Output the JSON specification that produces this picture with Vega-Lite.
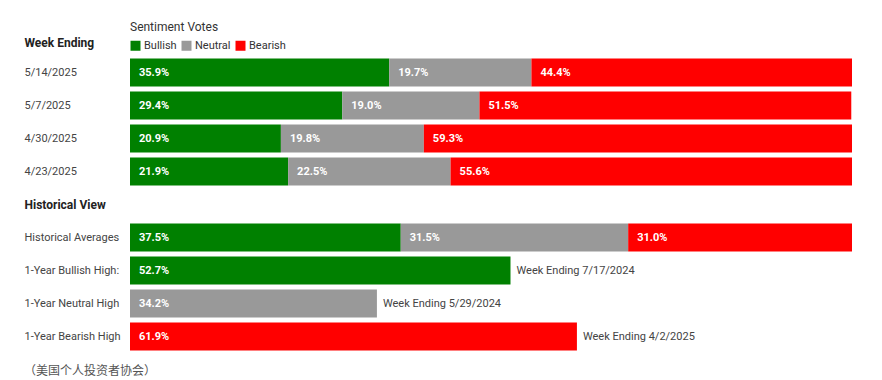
{
  "$schema": "https://vega.github.io/schema/vega-lite/v6.json",
  "width": 722,
  "height": 297,
  "autosize": {"type": "none"},
  "padding": {"left": 130, "top": 56, "right": 30, "bottom": 27},
  "background": "white",
  "config": {"view": {"stroke": null}, "font": "Roboto"},
  "title": {
    "text": "（美国个人投资者协会）",
    "orient": "bottom",
    "anchor": "start",
    "frame": "group",
    "dx": -106,
    "offset": 13,
    "fontSize": 12,
    "fontWeight": "normal",
    "color": "#555555",
    "font": "Noto Sans CJK SC"
  },
  "data": {
    "values": [
      {"row": "5/14/2025", "series": "Bullish", "order": 1, "value": 35.9},
      {"row": "5/14/2025", "series": "Neutral", "order": 2, "value": 19.7},
      {"row": "5/14/2025", "series": "Bearish", "order": 3, "value": 44.4},
      {"row": "5/7/2025", "series": "Bullish", "order": 1, "value": 29.4},
      {"row": "5/7/2025", "series": "Neutral", "order": 2, "value": 19.0},
      {"row": "5/7/2025", "series": "Bearish", "order": 3, "value": 51.5},
      {"row": "4/30/2025", "series": "Bullish", "order": 1, "value": 20.9},
      {"row": "4/30/2025", "series": "Neutral", "order": 2, "value": 19.8},
      {"row": "4/30/2025", "series": "Bearish", "order": 3, "value": 59.3},
      {"row": "4/23/2025", "series": "Bullish", "order": 1, "value": 21.9},
      {"row": "4/23/2025", "series": "Neutral", "order": 2, "value": 22.5},
      {"row": "4/23/2025", "series": "Bearish", "order": 3, "value": 55.6},
      {"row": "Historical Averages", "series": "Bullish", "order": 1, "value": 37.5},
      {"row": "Historical Averages", "series": "Neutral", "order": 2, "value": 31.5},
      {"row": "Historical Averages", "series": "Bearish", "order": 3, "value": 31.0},
      {"row": "1-Year Bullish High:", "series": "Bullish", "order": 1, "value": 52.7, "note": "Week Ending 7/17/2024"},
      {"row": "1-Year Neutral High", "series": "Neutral", "order": 2, "value": 34.2, "note": "Week Ending 5/29/2024"},
      {"row": "1-Year Bearish High", "series": "Bearish", "order": 3, "value": 61.9, "note": "Week Ending 4/2/2025"}
    ]
  },
  "transform": [
    {"stack": "value", "groupby": ["row"], "sort": [{"field": "order", "order": "ascending"}], "as": ["x0", "x1"]}
  ],
  "encoding": {
    "y": {
      "field": "row",
      "type": "nominal",
      "scale": {
        "domain": ["5/14/2025", "5/7/2025", "4/30/2025", "4/23/2025", "Historical View", "Historical Averages", "1-Year Bullish High:", "1-Year Neutral High", "1-Year Bearish High"],
        "paddingInner": 0.15,
        "paddingOuter": 0.075
      },
      "axis": {
        "title": "Week Ending",
        "titleAngle": 0,
        "titleAlign": "left",
        "titleBaseline": "middle",
        "titleX": -106,
        "titleY": -14,
        "titleFontSize": 12,
        "titleFontWeight": "bold",
        "titleColor": "#222222",
        "domain": false,
        "ticks": false,
        "grid": false,
        "labelAlign": "left",
        "labelPadding": 106,
        "labelFontSize": {"condition": {"test": "datum.value == 'Historical View'", "value": 12}, "value": 11},
        "labelFontWeight": {"condition": {"test": "datum.value == 'Historical View'", "value": "bold"}, "value": "normal"},
        "labelColor": {"condition": {"test": "datum.value == 'Historical View'", "value": "#222222"}, "value": "#444444"}
      }
    }
  },
  "layer": [
    {
      "mark": {"type": "bar"},
      "encoding": {
        "x": {"field": "x0", "type": "quantitative", "scale": {"domain": [0, 100], "nice": false}, "axis": null},
        "x2": {"field": "x1"},
        "color": {
          "field": "series",
          "type": "nominal",
          "scale": {"domain": ["Bullish", "Neutral", "Bearish"], "range": ["#008000", "#999999", "#ff0000"]},
          "legend": {
            "title": "Sentiment Votes",
            "orient": "none",
            "legendX": 0,
            "legendY": -34,
            "direction": "horizontal",
            "padding": 0,
            "titleFontSize": 12,
            "titleFontWeight": "normal",
            "titleColor": "#333333",
            "titlePadding": 6,
            "labelFontSize": 11,
            "labelColor": "#333333",
            "labelOffset": 3,
            "columnPadding": 4,
            "symbolType": "square",
            "symbolSize": 100,
            "symbolStrokeWidth": 0,
            "symbolOpacity": 1
          }
        }
      }
    },
    {
      "mark": {"type": "text", "align": "left", "baseline": "middle", "dx": 9, "fontSize": 11, "fontWeight": "bold", "color": "white", "text": {"expr": "format(datum.value, '.1f') + '%'"}},
      "encoding": {
        "x": {"field": "x0", "type": "quantitative"}
      }
    },
    {
      "transform": [{"filter": "datum.note != null"}],
      "mark": {"type": "text", "align": "left", "baseline": "middle", "dx": 6, "fontSize": 11, "color": "#444444"},
      "encoding": {
        "x": {"field": "x1", "type": "quantitative"},
        "text": {"field": "note"}
      }
    }
  ]
}
